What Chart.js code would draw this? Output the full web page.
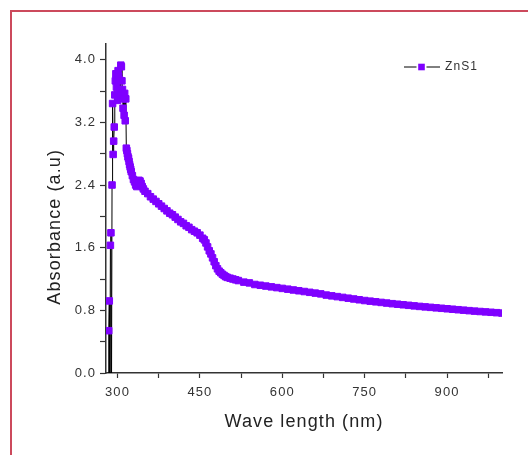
<!DOCTYPE html>
<html>
<head>
<meta charset="utf-8">
<title>ZnS1 absorbance</title>
<script src="https://cdn.jsdelivr.net/npm/chart.js@4/dist/chart.umd.min.js"></script>
<style>
  html, body { margin: 0; padding: 0; background: #fff; }
  #wrap { position: relative; width: 528px; height: 455px; overflow: hidden; }
  #frame {
    position: absolute; left: 10px; top: 10px; width: 600px; height: 600px;
    border-left: 2px solid #cc4a5c; border-top: 2px solid #cc4a5c;
  }
  #absChart { position: absolute; left: 0; top: 0; }
</style>
</head>
<body>
<div id="wrap">
  <div id="frame"></div>
  <canvas id="absChart" width="528" height="455"></canvas>
</div>
<script>
// series (nm / a.u.)
const seriesName = "ZnS1";
const wavelength = [
  283, 284, 285, 286, 287, 288, 289, 290, 291, 292, 293, 294, 295, 296, 297, 298, 299,
  300, 301, 302, 303, 304, 305, 306, 307, 308, 309, 310, 311, 312, 313, 314, 315, 316,
  317, 318, 319, 320, 321, 322, 323, 324, 325, 327, 329, 331, 333, 335, 337, 339, 341,
  343, 345, 347, 350, 355, 360, 365, 370, 375, 380, 385, 390, 395, 400, 405, 410, 415,
  420, 425, 430, 435, 440, 445, 450, 455, 458, 461, 464, 467, 470, 473, 476, 479, 482,
  485, 488, 491, 494, 497, 500, 505, 510, 515, 520, 530, 540, 550, 560, 570, 580, 590,
  600, 610, 620, 630, 640, 650, 660, 670, 680, 690, 700, 710, 720, 730, 740, 750, 760,
  770, 780, 790, 800, 810, 820, 830, 840, 850, 860, 870, 880, 890, 900, 910, 920, 930,
  940, 950, 960, 970, 980, 990, 1000
];
const absorbance = [
  -0.4, 0.54, 0.92, -0.5, 1.63, 1.79, -0.3, 2.40, 3.44, 2.79, 2.96, 3.14, 3.55, 3.73, 3.82, 3.65, 3.74,
  3.48, 3.86, 3.79, 3.62, 3.74, 3.55, 3.93, 3.91, 3.73, 3.62, 3.38, 3.50, 3.29, 3.57, 3.22, 3.50, 2.87,
  2.84, 2.80, 2.76, 2.74, 2.70, 2.66, 2.63, 2.60, 2.57, 2.52, 2.47, 2.44, 2.40, 2.38, 2.43, 2.46, 2.45,
  2.42, 2.38, 2.35, 2.32, 2.29, 2.25, 2.22, 2.19, 2.16, 2.13, 2.10, 2.07, 2.04, 2.02, 1.99, 1.96, 1.93,
  1.91, 1.88, 1.86, 1.83, 1.81, 1.79, 1.76, 1.72, 1.70, 1.66, 1.61, 1.56, 1.52, 1.47, 1.42, 1.37, 1.33,
  1.30, 1.28, 1.26, 1.245, 1.23, 1.22, 1.21, 1.20, 1.19, 1.18, 1.16, 1.15, 1.13, 1.12, 1.11, 1.10, 1.09,
  1.08, 1.07, 1.06, 1.05, 1.04, 1.03, 1.02, 1.01, 0.995, 0.985, 0.975, 0.965, 0.955, 0.945, 0.935, 0.925, 0.917,
  0.909, 0.901, 0.893, 0.885, 0.878, 0.871, 0.864, 0.857, 0.85, 0.844, 0.838, 0.832, 0.826, 0.82, 0.814, 0.808, 0.802,
  0.796, 0.79, 0.785, 0.78, 0.775, 0.77, 0.765
];

// axis ticks
const xMajor = [300, 450, 600, 750, 900];
const xMinor = [375, 525, 675, 825, 975];
const yMajor = [0, 0.8, 1.6, 2.4, 3.2, 4.0];
const yMinor = [0.4, 1.2, 2.0, 2.8, 3.6];

const purple = "#7f00ff";
const tickFont = { family: "'Liberation Sans', Arial, sans-serif", size: 13 };
const titleFont = { family: "'Liberation Sans', Arial, sans-serif", size: 18 };

const isIn = (list, v) => list.some(m => Math.abs(m - v) < 1e-6);

// Origin-style legend sample: line - square - line, then the name
const legendSample = {
  id: "legendSample",
  afterDatasetsDraw(chart) {
    const { ctx, chartArea } = chart;
    const ds = chart.data.datasets[0];
    const y = chartArea.top + 23;
    const x0 = chartArea.right - 98;
    ctx.save();
    ctx.strokeStyle = ds.borderColor;
    ctx.lineWidth = 1;
    ctx.beginPath();
    ctx.moveTo(x0, y); ctx.lineTo(x0 + 12.5, y);
    ctx.moveTo(x0 + 22.5, y); ctx.lineTo(x0 + 36, y);
    ctx.stroke();
    ctx.fillStyle = ds.pointBackgroundColor;
    ctx.fillRect(x0 + 14.2, y - 3.3, 6.6, 6.6);
    ctx.fillStyle = "#333";
    ctx.font = "12px 'Liberation Sans', Arial, sans-serif";
    ctx.textBaseline = "middle";
    ctx.textAlign = "left";
    ctx.fillText(ds.label, x0 + 41, y);
    ctx.restore();
  }
};

// wide letter spacing like the original export
const spacing = {
  id: "spacing",
  beforeDraw(chart) { chart.ctx.letterSpacing = "1.1px"; }
};

const ctx = document.getElementById("absChart").getContext("2d");
new Chart(ctx, {
  type: "line",
  data: {
    datasets: [{
      label: seriesName,
      data: wavelength.map((w, i) => ({ x: w, y: absorbance[i] })),
      borderColor: "#000",
      borderWidth: 1,
      pointStyle: "rect",
      pointRadius: 4.6,
      pointBorderWidth: 1,
      pointBackgroundColor: purple,
      pointBorderColor: purple,
      tension: 0,
    }],
  },
  options: {
    responsive: false,
    animation: false,
    layout: { padding: { top: 44, right: 26, left: 0, bottom: 0 } },
    plugins: {
      legend: { display: false },
      tooltip: { enabled: false },
    },
    scales: {
      x: {
        type: "linear",
        min: 279,
        max: 1000,
        afterBuildTicks: (s) => { s.ticks = xMajor.concat(xMinor).sort((a, b) => a - b).map(v => ({ value: v })); },
        afterFit: (s) => { s.height = 82; },
        grid: { drawOnChartArea: false, tickLength: 5, tickColor: "#333", tickWidth: 1.2 },
        border: { color: "#333", width: 1.5 },
        ticks: {
          autoSkip: false,
          maxRotation: 0,
          padding: 7,
          color: "#333",
          font: tickFont,
          callback: (v) => isIn(xMajor, v) ? String(v) : "",
        },
        title: {
          display: true,
          text: "Wave length (nm)",
          color: "#222",
          font: titleFont,
          padding: { top: 0, bottom: 22 },
        },
      },
      y: {
        min: 0,
        max: 4.2,
        afterBuildTicks: (s) => { s.ticks = yMajor.concat(yMinor).sort((a, b) => a - b).map(v => ({ value: v })); },
        afterFit: (s) => { s.width = 106; },
        grid: { drawOnChartArea: false, tickLength: 6, tickColor: "#333", tickWidth: 1.2 },
        border: { color: "#333", width: 1.5 },
        ticks: {
          autoSkip: false,
          padding: 4,
          color: "#333",
          font: tickFont,
          callback: (v) => isIn(yMajor, v) ? v.toFixed(1) : "",
        },
        title: {
          display: true,
          text: "Absorbance (a.u)      ",
          color: "#222",
          font: titleFont,
          padding: { top: 44, bottom: 0 },
        },
      },
    },
  },
  plugins: [legendSample, spacing],
});
</script>
</body>
</html>
